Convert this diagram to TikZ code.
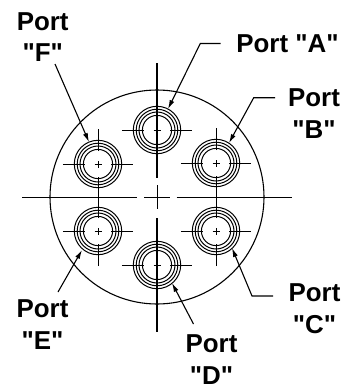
\documentclass[tikz,border=0pt]{standalone}
\usepackage{fontspec}
\setmainfont{Liberation Sans}[Ligatures=TeXOff]
\usetikzlibrary{arrows.meta}
\tikzset{
  x=1bp,y=-1bp,
  lbl/.style={font=\bfseries\fontsize{26}{31.6}\selectfont,align=center,anchor=base,inner sep=0pt,text=black},
  ring/.style={draw=black,line width=1bp},
  big/.style={draw=black,line width=1.1bp},
  center/.style={draw=black,line width=1bp},
  leader/.style={draw=black,line width=1.1bp,-{Latex[length=9bp,width=5bp]}},
}
\newcommand{\portmark}[3]{%
  \coordinate (#1) at (#2,#3);
  \foreach \r in {23.7,20.8,18,14.6}{\draw[ring] (#1) circle[radius=\r];}
  \foreach \a/\b in {-35/-13,-3.5/3.5,13/35}{
    \draw[center] ([xshift=\a bp]#1) -- ([xshift=\b bp]#1);
    \draw[center] ([yshift=\a bp]#1) -- ([yshift=\b bp]#1);
  }
}
\begin{document}
\begin{tikzpicture}
\useasboundingbox (0,0) rectangle (354,387);
\coordinate (M) at (157,197);
\draw[big] (M) circle[radius=107];
\portmark{A}{157}{130}
\portmark{B}{216}{163}
\portmark{C}{216}{231}
\portmark{D}{157}{265}
\portmark{E}{98}{231}
\portmark{F}{98}{164}
\draw[center] (22,197) -- (137,197);
\draw[center] (144,197) -- (170,197);
\draw[center] (176.5,197) -- (292,197);
\draw[center,line width=1.3bp] (157,63) -- (157,177.5);
\draw[center] (157,185) -- (157,209);
\draw[center,line width=1.3bp] (157,218) -- (157,332);
\node[lbl] (la) at (287.5,52.7) {Port "A"};
\node[lbl] (lb) at (314,138.3) {Port\\"B"};
\node[lbl] (lc) at (314.5,333) {Port\\"C"};
\node[lbl] (ld) at (211.5,384) {Port\\"D"};
\node[lbl] (le) at (42.5,349) {Port\\"E"};
\node[lbl] (lf) at (42.7,61.7) {Port\\"F"};
\coordinate (a1) at (220.7,43.5);
\coordinate (a2) at (200.3,43.5);
\coordinate (at) at (168,109);
\coordinate (b1) at (275,97.7);
\coordinate (b2) at (253.7,97.7);
\coordinate (bt) at (229,143);
\coordinate (c1) at (273,296);
\coordinate (c2) at (252,296);
\coordinate (ct) at (232,248);
\coordinate (d1) at (193.5,324);
\coordinate (dt) at (172,283);
\coordinate (e1) at (58,292);
\coordinate (et) at (82,250);
\coordinate (f1) at (55,64);
\coordinate (ft) at (89,142);
\draw[leader] (a1) -- (a2) -- (at);
\draw[leader] (b1) -- (b2) -- (bt);
\draw[leader] (c1) -- (c2) -- (ct);
\draw[leader] (d1) -- (dt);
\draw[leader] (e1) -- (et);
\draw[leader] (f1) -- (ft);
\end{tikzpicture}
\end{document}
